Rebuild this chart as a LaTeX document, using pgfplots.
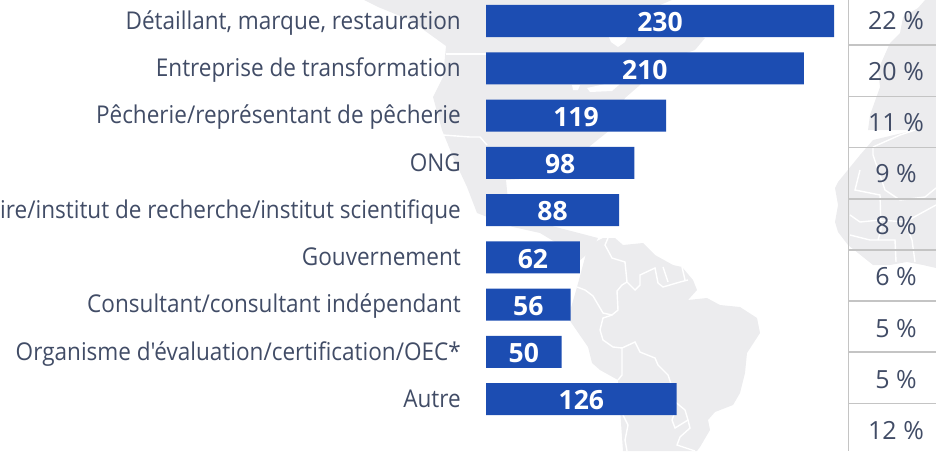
\documentclass[border=0pt]{standalone}
\usepackage{pgfplots}
\usepackage{pgfplotstable}
\pgfplotsset{compat=1.18}
\usepackage{fontspec}
\newfontfamily\uifont{Open Sans}
\newfontfamily\uifontn[FakeStretch=0.92]{Open Sans}
\definecolor{barblue}{HTML}{1C4DB2}
\definecolor{txt}{HTML}{414C66}
\definecolor{land}{HTML}{ECECEE}
\definecolor{rule}{HTML}{C4C4C4}
\newcommand{\lab}{\fontsize{24.5}{28}\selectfont\uifontn}
\pgfplotstableread{
row v
0 230
1 210
2 119
3 98
4 88
5 62
6 56
7 50
8 126
}\bars
\begin{document}
\begin{tikzpicture}[x=1pt,y=1pt]
\path[use as bounding box,clip] (0,0) rectangle (936,451);
% background map, pixel coordinates
\begin{axis}[at={(0pt,0pt)},anchor=south west,scale only axis,width=936pt,height=451pt,
  xmin=0,xmax=936,ymin=0,ymax=451,y dir=reverse,hide axis,clip=true]
% North and Central America
\addplot[fill=land,draw=none] coordinates {
(364,0)(378,7)(410,20)(446,46)(443,77)(433,97)(442,130)(453,157)(467,187)(477,213)(513,227)(540,233)(560,245)(578,262)
(592,250)(598,238)(575,232)(548,225)(525,222)(508,200)(506,180)(540,178)(570,178)(590,146)(610,130)(625,98)(640,85)(660,62)(695,50)(705,38)(690,33)(660,5)(672,0)} -- cycle;
\addplot[fill=white,draw=none] coordinates {(606,30)(630,30)(625,42)(618,47)(611,42)} -- cycle;
\addplot[fill=white,draw=none] coordinates {(572,85)(580,85)(578,90)(573,90)} -- cycle;
\addplot[fill=white,draw=none] coordinates {(587,88)(605,84)(620,84)(612,91)(590,92)} -- cycle;
% South America
\addplot[fill=land,draw=none] coordinates {
(593,243)(603,238)(615,238)(623,245)(643,243)(655,255)(673,265)(682,267)(693,280)(697,290)(688,300)(707,298)(720,305)(740,307)(757,318)(760,333)(747,353)(745,373)(740,393)(733,405)(715,412)(708,420)(710,430)(700,447)(697,451)
(623,451)(621,423)(618,380)(600,370)(592,363)(588,347)(568,318)(577,287)(587,250)} -- cycle;
% Europe
\addplot[fill=land,draw=none] coordinates {
(925,0)(936,0)(936,130)(868,130)(870,115)(880,87)(878,70)(890,43)(900,33)(903,17)(918,8)} -- cycle;
% Africa
\addplot[fill=land,draw=none] coordinates {
(873,140)(936,125)(936,268)(923,265)(907,262)(890,265)(873,265)(848,245)(838,232)(835,222)(838,205)(835,188)(838,182)(860,155)} -- cycle;
% borders
\addplot[white,line width=1.4pt] coordinates {(446,54)(486,54)};
\addplot[white,line width=1.4pt] coordinates {(443,135)(470,137)(480,137)(487,145)};
\addplot[white,line width=1.4pt] coordinates {(608,238)(605,245)(612,258)(625,262)(627,282)(622,285)(617,291)(618,310)(612,315)(603,313)(593,296)(585,290)(577,287)};
\addplot[white,line width=1.4pt] coordinates {(627,282)(635,290)(640,285)(640,275)(655,268)(658,283)(663,287)(680,282)(688,280)};
\addplot[white,line width=1.4pt] coordinates {(663,267)(668,282)};
\addplot[white,line width=1.4pt] coordinates {(682,267)(685,280)};
\addplot[white,line width=1.4pt] coordinates {(612,315)(603,318)(600,330)(603,340)(613,347)(622,348)(635,342)(640,352)(655,358)(658,365)(665,372)(668,375)(673,390)};
\addplot[white,line width=1.4pt] coordinates {(622,348)(622,375)(618,380)};
\addplot[white,line width=1.4pt] coordinates {(673,400)(685,410)(688,420)(675,428)(672,420)(675,412)};
\addplot[white,line width=1.4pt] coordinates {(688,420)(690,428)(680,437)(677,445)(695,451)};
\addplot[white,line width=1.4pt] coordinates {(623,415)(628,425)(625,440)(627,451)};
\addplot[white,line width=1.4pt] coordinates {(873,147)(900,135)(915,130)};
\addplot[white,line width=1.4pt] coordinates {(873,147)(873,155)(885,190)(900,200)(925,197)(936,188)};
\addplot[white,line width=1.4pt] coordinates {(860,170)(855,190)(880,195)(881,230)(878,240)};
\addplot[white,line width=1.4pt] coordinates {(850,215)(860,222)(880,220)(905,222)(936,205)};
\addplot[white,line width=1.4pt] coordinates {(905,222)(912,240)(915,262)};
\addplot[white,line width=1.4pt] coordinates {(850,235)(870,240)(895,240)(896,262)};
\end{axis}
% bars
\begin{axis}[at={(486pt,0pt)},anchor=south west,scale only axis,width=450pt,height=451pt,
  xmin=0,xmax=297.4,ymin=-0.4444,ymax=9.1,y dir=reverse,
  axis line style={draw=none},xtick=\empty,ytick={0,...,8},major tick length=0pt,
  /pgf/number format/assume math mode=true,
  yticklabels={{Détaillant, marque, restauration},{Entreprise de transformation},{Pêcherie/représentant de pêcherie},{ONG},{Laboratoire/institut de recherche/institut scientifique},{Gouvernement},{Consultant/consultant indépendant},{Organisme d'évaluation/certification/OEC*},{Autre}},
  yticklabel style={font=\lab,text=txt,inner xsep=0pt,inner ysep=0pt,text height=18pt,text depth=5pt,xshift=-25pt,yshift=-1.8pt},
  clip=false]
\addplot[xbar,bar width=32pt,fill=barblue,draw=none,bar shift=0pt] table[x=v,y=row] {\bars};
\addplot[draw=none,mark=none,nodes near coords,point meta=explicit,
  nodes near coords style={anchor=center,font=\fontsize{26.5}{30}\selectfont\uifont\bfseries,text=white,yshift=-1.5pt}]
  table[x expr=\thisrow{v}/2,y=row,meta=v] {\bars};
\end{axis}
% share column
\begin{axis}[at={(848.5pt,0pt)},anchor=south west,scale only axis,width=87.5pt,height=451pt,
  xmin=848.5,xmax=936,ymin=0,ymax=451,y dir=reverse,
  axis x line=none,axis y line=left,axis line style={-,draw=rule,line width=1.3pt},
  xtick=\empty,ytick={45,96.5,147.5,199,250,301,352,403.5},yticklabels={},major tick length=0pt,
  ymajorgrids,grid style={draw=rule,line width=1.2pt},clip=false]
\addplot[draw=none,mark=none,nodes near coords,point meta=explicit symbolic,
  nodes near coords style={anchor=center,font=\fontsize{25}{28}\selectfont\uifont,text=txt}]
  coordinates {(896,21)[22 \%] (896,71.5)[20 \%] (896,122.6)[11 \%] (896,174)[9 \%] (896,226)[8 \%] (896,277)[6 \%] (896,328.5)[5 \%] (896,379.5)[5 \%] (896,431)[12 \%]};
\end{axis}
\end{tikzpicture}
\end{document}
